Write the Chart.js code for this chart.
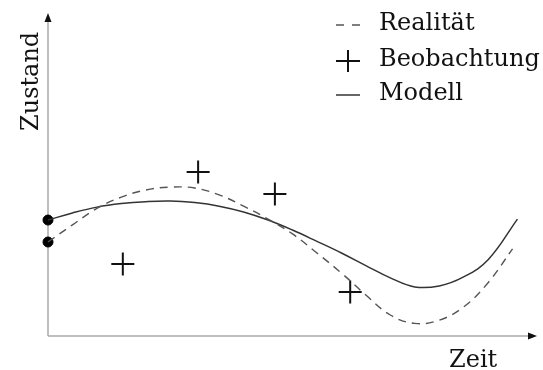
<!DOCTYPE html>
<html>
<head>
<meta charset="utf-8">
<script src="https://cdn.jsdelivr.net/npm/chart.js@4"></script>
<style>
  html, body { margin: 0; padding: 0; background: #fff; }
</style>
</head>
<body>
<canvas id="myChart" width="543" height="370"></canvas>
<script>
// Realität (dashed)
const zeitRealitaet = [0, 5, 10, 15, 20, 25, 30, 35, 40, 45, 50, 55, 60, 65, 70, 75, 80, 85, 90, 95];
const zustandRealitaet = [29.1, 34.4, 39.5, 43.0, 45.2, 46.1, 45.8, 43.7, 40.2, 36.2, 31.6, 25.7, 19.5, 12.7, 6.5, 3.9, 4.9, 9.0, 16.5, 27.0];

// Modell (solid)
const zeitModell = [0, 5, 10, 15, 20, 25, 30, 35, 40, 45, 50, 55, 60, 65, 70, 75, 80, 85, 90, 96];
const zustandModell = [35.9, 38.1, 39.9, 41.0, 41.6, 41.8, 41.3, 40.2, 38.4, 35.9, 32.8, 29.3, 25.7, 21.8, 18.0, 15.2, 15.5, 18.3, 23.6, 36.2];

// Beobachtung (crosses)
const zeitBeobachtung = [15.3, 30.7, 46.4, 61.8];
const zustandBeobachtung = [22.3, 50.8, 44.0, 13.6];

const legendLabels = ['Realität', 'Beobachtung', 'Modell'];
const xLabel = 'Zeit';
const yLabel = 'Zustand';

const toPoints = (xs, ys) => xs.map((x, i) => ({ x: x, y: ys[i] }));

const FONT = '24px "DejaVu Serif"';

// axes with arrow heads, axis titles and the little legend
const sketchPlugin = {
  id: 'sketch',
  beforeDatasetsDraw(chart) {
    const c = chart.ctx;
    const xs = chart.scales.x, ys = chart.scales.y;
    const x0 = xs.getPixelForValue(0), y0 = ys.getPixelForValue(0);
    const xEnd = xs.getPixelForValue(100), yEnd = ys.getPixelForValue(100);
    c.save();
    c.strokeStyle = '#aaa';
    c.lineWidth = 1.5;
    c.beginPath();
    c.moveTo(x0, y0); c.lineTo(xEnd - 6, y0);
    c.moveTo(x0, y0); c.lineTo(x0, yEnd + 6);
    c.stroke();
    c.fillStyle = '#111';
    c.beginPath();
    c.moveTo(xEnd, y0); c.lineTo(xEnd - 9, y0 - 3.5); c.lineTo(xEnd - 9, y0 + 3.5);
    c.closePath(); c.fill();
    c.beginPath();
    c.moveTo(x0, yEnd); c.lineTo(x0 - 3.5, yEnd + 9); c.lineTo(x0 + 3.5, yEnd + 9);
    c.closePath(); c.fill();

    c.font = FONT;
    c.fillStyle = '#111';
    c.textBaseline = 'alphabetic';
    c.textAlign = 'left';
    c.fillText(xLabel, 449, 367);
    c.save();
    c.translate(38, 131);
    c.rotate(-Math.PI / 2);
    c.fillText(yLabel, 0, 0);
    c.restore();
    c.restore();
  },
  afterDraw(chart) {
    const c = chart.ctx;
    const symX = 336, textX = 379;
    const rows = [25, 61, 95];
    c.save();
    // dashed
    c.strokeStyle = '#555';
    c.lineWidth = 1.4;
    c.setLineDash([8, 8]);
    c.beginPath(); c.moveTo(symX, rows[0]); c.lineTo(symX + 24, rows[0]); c.stroke();
    c.setLineDash([]);
    // cross
    c.strokeStyle = '#111';
    c.lineWidth = 2;
    c.beginPath();
    c.moveTo(symX, rows[1]); c.lineTo(symX + 24, rows[1]);
    c.moveTo(symX + 12, rows[1] - 11); c.lineTo(symX + 12, rows[1] + 11);
    c.stroke();
    // solid
    c.strokeStyle = '#333';
    c.lineWidth = 1.5;
    c.beginPath(); c.moveTo(symX, rows[2]); c.lineTo(symX + 24, rows[2]); c.stroke();

    c.font = FONT;
    c.fillStyle = '#111';
    c.textBaseline = 'middle';
    legendLabels.forEach((t, i) => c.fillText(t, textX, rows[i] - 1));
    c.restore();
  }
};

const ctx = document.getElementById('myChart').getContext('2d');

const myChart = new Chart(ctx, {
  type: 'scatter',
  data: {
    datasets: [{
      label: legendLabels[0],
      data: toPoints(zeitRealitaet, zustandRealitaet),
      showLine: true,
      borderColor: '#555',
      borderWidth: 1.4,
      borderDash: [8, 6],
      pointRadius: 0,
      tension: 0.4,
      clip: false
    }, {
      label: legendLabels[2],
      data: toPoints(zeitModell, zustandModell),
      showLine: true,
      borderColor: '#333',
      borderWidth: 1.5,
      pointRadius: 0,
      tension: 0.4,
      clip: false
    }, {
      label: legendLabels[1],
      data: toPoints(zeitBeobachtung, zustandBeobachtung),
      pointStyle: 'cross',
      pointRadius: 11.5,
      borderWidth: 2,
      borderColor: '#111',
      clip: false
    }, {
      label: 'Anfangswerte',
      data: [{ x: zeitRealitaet[0], y: zustandRealitaet[0] }, { x: zeitModell[0], y: zustandModell[0] }],
      pointRadius: 5,
      backgroundColor: '#000',
      borderColor: '#000',
      clip: false
    }]
  },
  options: {
    responsive: false,
    animation: false,
    events: [],
    layout: { autoPadding: false, padding: { left: 48, right: 6, top: 13, bottom: 34 } },
    scales: {
      x: { type: 'linear', min: 0, max: 100, display: false },
      y: { type: 'linear', min: 0, max: 100, display: false }
    },
    plugins: {
      legend: { display: false },
      tooltip: { enabled: false }
    }
  },
  plugins: [sketchPlugin]
});
</script>
</body>
</html>
